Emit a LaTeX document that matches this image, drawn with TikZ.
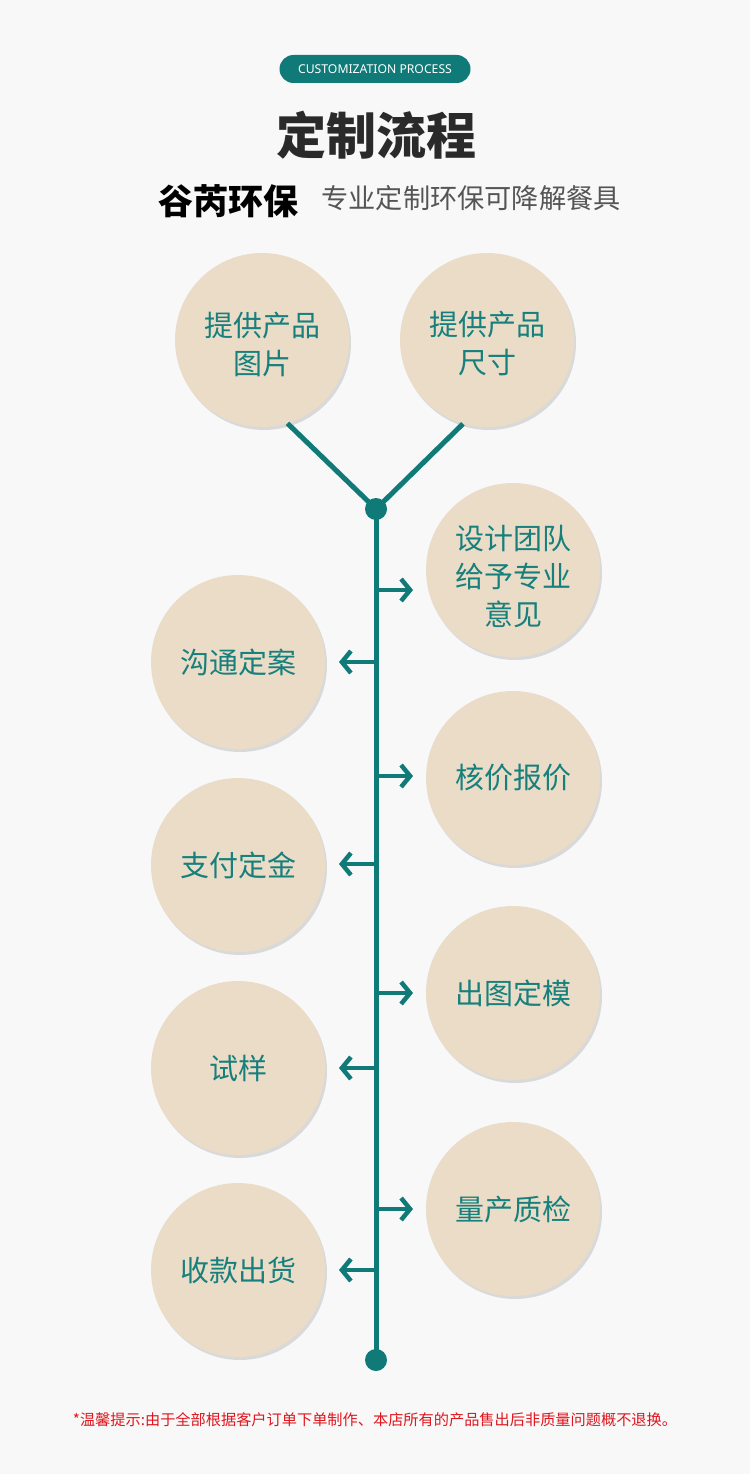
\documentclass[tikz,border=0pt]{standalone}
\usepackage{fontspec}
\newfontfamily\cjk{Noto Sans CJK SC}
\newfontfamily\latin{Noto Sans}
\usetikzlibrary{arrows.meta,shadows}
\definecolor{bg}{HTML}{F8F8F8}
\definecolor{teal}{HTML}{0F7A77}
\definecolor{tealtext}{HTML}{17807C}
\definecolor{beige}{HTML}{EBDCC8}
\definecolor{titlecol}{HTML}{2A2A2A}
\definecolor{subgray}{HTML}{555555}
\definecolor{warnred}{HTML}{E0161E}
\tikzset{
  steptext/.style={align=center, text=tealtext, font=\cjk\fontsize{29}{38}\selectfont},
  stepcircle/.style={circle, fill=beige, minimum size=174pt, inner sep=0pt, steptext,
    drop shadow={shadow xshift=2pt, shadow yshift=-3pt, opacity=0.12, fill=black}},
  flowline/.style={draw=teal, line width=5pt},
  flowarrow/.style={draw=teal, line width=4.5pt, -{Straight Barb[length=9pt,width=22pt]}},
  enddot/.style={circle, fill=teal, minimum size=22pt, inner sep=0pt},
}
\begin{document}
\begin{tikzpicture}[x=1pt,y=-1pt]
\fill[bg] (0,0) rectangle (750,1474);
\useasboundingbox (0,0) rectangle (750,1474);
% header
\node[fill=teal, rounded corners=14pt, minimum width=191pt, minimum height=28pt, inner sep=0pt,
  text=white, font=\latin\fontsize{12.2}{12}\selectfont] (pill) at (375,69) {CUSTOMIZATION PROCESS};
\node[text=titlecol, font=\cjk\bfseries\fontsize{50}{50}\selectfont] (title) at (376,135) {定制流程};
\node[text=black, font=\cjk\bfseries\fontsize{35}{35}\selectfont, anchor=west] (brand) at (155,201) {谷芮环保};
\node[text=subgray, font=\cjk\fontsize{27.2}{28}\selectfont, anchor=west] (slogan) at (318,198) {专业定制环保可降解餐具};
% circles
\node[stepcircle, label={[steptext, yshift=-4pt]center:{提供产品\\图片}}] (c1) at (262,340) {};
\node[stepcircle, label={[steptext, yshift=-4pt]center:{提供产品\\尺寸}}] (c2) at (487,340) {};
\node[stepcircle, label={[steptext, yshift=-6pt]center:{设计团队\\给予专业\\意见}}] (r1) at (513,570) {};
\node[stepcircle] (l1) at (238,662) {沟通定案};
\node[stepcircle] (r2) at (513,778) {核价报价};
\node[stepcircle] (l2) at (238,865) {支付定金};
\node[stepcircle] (r3) at (513,993) {出图定模};
\node[stepcircle] (l3) at (238,1068) {试样};
\node[stepcircle] (r4) at (513,1209) {量产质检};
\node[stepcircle] (l4) at (238,1270) {收款出货};
% dots
\node[enddot] (top) at (376,509) {};
\node[enddot] (bot) at (376,1360) {};
\draw[flowline] (c1.-73) -- (top.center);
\draw[flowline] (c2.-106) -- (top.center);
\draw[flowline] (top.center) -- (bot.center);
% arrows
\foreach \y/\n in {590/a1, 776/a2, 993/a3, 1209/a4}{
  \coordinate (\n s) at (376,\y);
  \coordinate (\n e) at (413,\y);
  \draw[flowarrow] (\n s) -- (\n e);
}
\foreach \y/\n in {662/b1, 864/b2, 1068/b3, 1270/b4}{
  \coordinate (\n s) at (376,\y);
  \coordinate (\n e) at (339,\y);
  \draw[flowarrow] (\n s) -- (\n e);
}
% footer
\node[text=warnred, font=\cjk\fontsize{15.2}{15}\selectfont] (note) at (375,1420) {*温馨提示:由于全部根据客户订单下单制作、本店所有的产品售出后非质量问题概不退换。};
\end{tikzpicture}
\end{document}
